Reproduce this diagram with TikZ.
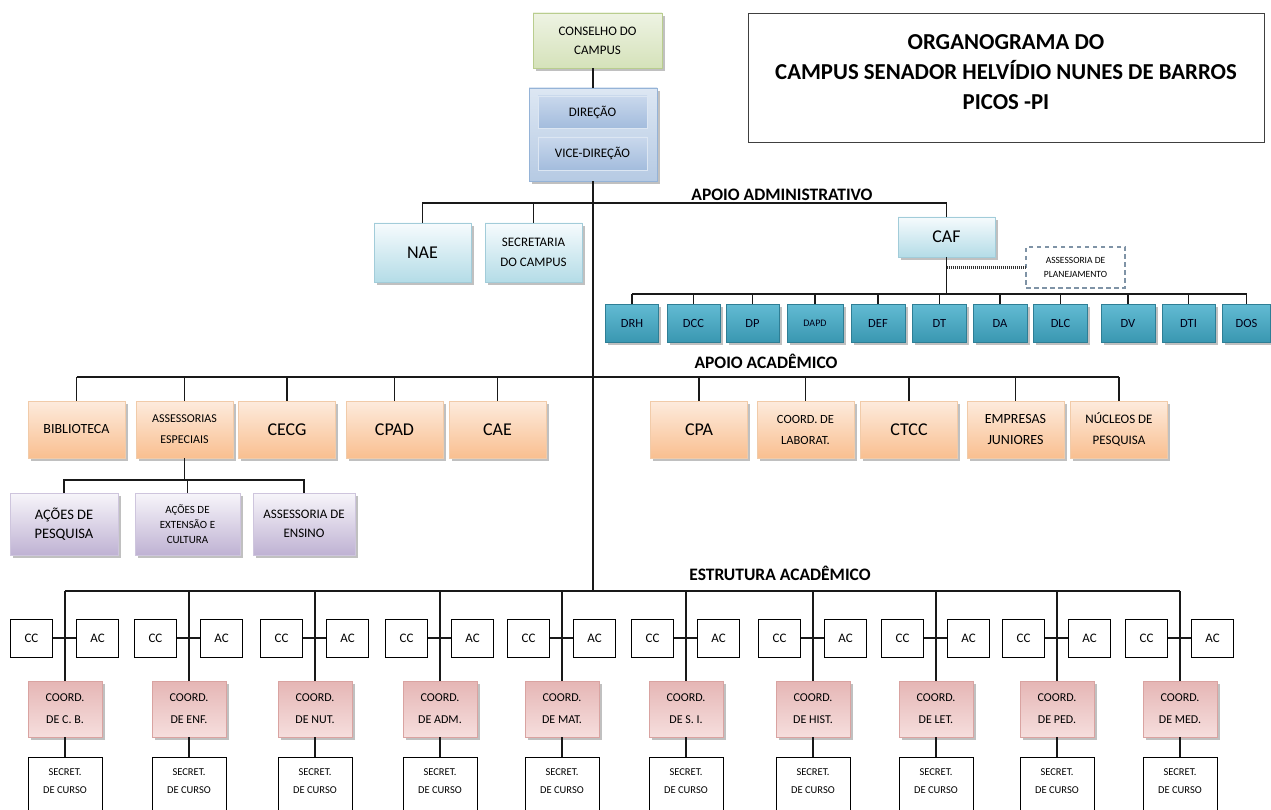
\documentclass[tikz,border=0pt]{standalone}
\usepackage{fontspec}
\setmainfont{Carlito}
\usetikzlibrary{shadows,calc}
\definecolor{grnT}{HTML}{EEF3E3}
\definecolor{grnB}{HTML}{D5E2BA}
\definecolor{grnD}{HTML}{B9CD8E}
\definecolor{bluT}{HTML}{DDE7F3}
\definecolor{bluB}{HTML}{B6CAE3}
\definecolor{bluD}{HTML}{95B3D7}
\definecolor{binT}{HTML}{C9D8EC}
\definecolor{binB}{HTML}{A3BCDD}
\definecolor{binD}{HTML}{DCE6F2}
\definecolor{cyaT}{HTML}{F6FBFD}
\definecolor{cyaB}{HTML}{B4DCE7}
\definecolor{cyaD}{HTML}{A2CCD9}
\definecolor{tealT}{HTML}{62BBD3}
\definecolor{tealB}{HTML}{3A97B1}
\definecolor{tealD}{HTML}{2E7E95}
\definecolor{orT}{HTML}{FDEBDD}
\definecolor{orB}{HTML}{F9BF90}
\definecolor{orD}{HTML}{F1CBA9}
\definecolor{puT}{HTML}{F7F5FA}
\definecolor{puB}{HTML}{BFB2D3}
\definecolor{puD}{HTML}{CEC5DD}
\definecolor{piT}{HTML}{E5B6B5}
\definecolor{piB}{HTML}{F6DEDD}
\definecolor{piD}{HTML}{D9A3A1}
\definecolor{dashc}{HTML}{7F93A6}
\begin{document}
\begin{tikzpicture}[x=1pt,y=-1pt,
  conn/.style={draw=black!90, line width=1.15pt},
  bx/.style={rectangle, align=center, inner sep=1pt, text=black, line width=0.8pt},
  shd/.style={drop shadow={opacity=0.35, shadow xshift=2.5pt, shadow yshift=-3pt, fill=black!70}},
  grnbox/.style={bx, shd, draw=grnD, top color=grnT, bottom color=grnB},
  dirbox/.style={bx, shd, draw=bluD, top color=bluT, bottom color=bluB},
  dinbox/.style={bx, draw=binD, top color=binT, bottom color=binB},
  cyabox/.style={bx, shd, draw=cyaD, top color=cyaT, bottom color=cyaB, minimum width=97pt},
  tealbox/.style={bx, shd, draw=tealD, top color=tealT, bottom color=tealB, minimum height=38pt, text=black!90!blue, font=\fontsize{12.5pt}{14pt}\selectfont},
  orbox/.style={bx, shd, draw=orD, top color=orT, bottom color=orB, minimum width=97pt, minimum height=57pt},
  pubox/.style={bx, shd, draw=puD, top color=puT, bottom color=puB, minimum height=62pt},
  pibox/.style={bx, shd, draw=piD, top color=piT, bottom color=piB, minimum width=74pt, minimum height=56pt, font=\fontsize{12pt}{22pt}\selectfont},
  whbox/.style={bx, draw=black, fill=white, minimum width=42pt, minimum height=38pt, font=\fontsize{13pt}{15pt}\selectfont},
  secbox/.style={bx, draw=black, fill=white, minimum width=74pt, minimum height=80pt, anchor=north},
  sectxt/.style={align=center, inner sep=0pt, text=black, font=\fontsize{10.5pt}{18pt}\selectfont},
  head/.style={inner sep=0pt, text=black, font=\fontsize{17.5pt}{20pt}\selectfont\bfseries}
]
\path[use as bounding box] (0,0) rectangle (1271,810);
\clip (0,0) rectangle (1271,810);
\fill[white] (0,0) rectangle (1271,810);

% ---------- title ----------
\node[draw=black!75, line width=0.9pt, minimum width=516pt, minimum height=129pt] (title) at (1006,77.5) {};
\node[align=center, inner sep=0pt, font=\fontsize{22.8pt}{30pt}\selectfont\bfseries, text=black] (titletxt) at (1006,72)
  {ORGANOGRAMA DO\\CAMPUS SENADOR HELVÍDIO NUNES DE BARROS\\PICOS -PI};

% ---------- top ----------
\node[grnbox, minimum width=129pt, minimum height=55pt, font=\fontsize{13pt}{19pt}\selectfont] (cons) at (597.5,40.5) {CONSELHO DO\\CAMPUS};
\node[dirbox, minimum width=128pt, minimum height=93pt] (dir) at (593,134.5) {};
\node[dinbox, minimum width=109pt, minimum height=32pt, font=\fontsize{13pt}{15pt}\selectfont] (dire) at (592.5,112) {DIREÇÃO};
\node[dinbox, minimum width=109pt, minimum height=33pt, font=\fontsize{13pt}{15pt}\selectfont] (vice) at (592.5,153.5) {VICE-DIREÇÃO};

\draw[conn] (dir.north) -- (dir.north |- cons.south);

% ---------- apoio administrativo ----------
\node[head] (hadm) at (782,195) {APOIO ADMINISTRATIVO};
\coordinate (admbus) at (593,203);
\node[cyabox, minimum height=59pt, font=\fontsize{18pt}{20pt}\selectfont] (nae) at (422.5,252.5) {NAE};
\node[cyabox, minimum height=59pt, font=\fontsize{13pt}{20pt}\selectfont] (secc) at (533.5,252.5) {SECRETARIA\\DO CAMPUS};
\node[cyabox, minimum height=40pt, font=\fontsize{18pt}{20pt}\selectfont] (caf) at (946.5,237) {CAF};
\node[bx, draw=dashc, dashed, dash pattern=on 4.5pt off 3.5pt, line width=1.4pt, fill=white, minimum width=99pt, minimum height=41pt,
      font=\fontsize{9.5pt}{14pt}\selectfont] (plan) at (1075.5,267.5) {ASSESSORIA DE\\PLANEJAMENTO};

\draw[conn] (nae.north) |- (admbus) -| (caf.north);
\draw[conn] (secc.north) -- (secc.north |- admbus);
\draw[black!80, line width=2.2pt, dash pattern=on 1pt off 1pt] (caf.south |- plan.west) -- (plan.west);

\coordinate (tbus) at (946.5,294);
\foreach \n/\x/\w/\t in {drh/632/53/DRH, dcc/693.5/53/DCC, dp/752.5/53/DP, def/878/54/DEF, dt/939.5/54/DT,
                         da/1000/54/DA, dlc/1060.5/54/DLC, dv/1128/54/DV, dti/1188.5/53/DTI, dos/1246.5/48/DOS}{
  \node[tealbox, minimum width=\w pt] (\n) at (\x,323) {\t};
  \draw[conn] (\n.north) -- (\n.north |- tbus);
}
\node[tealbox, minimum width=56pt, font=\fontsize{10pt}{12pt}\selectfont] (dapd) at (815,323) {DAPD};
\draw[conn] (dapd.north) -- (dapd.north |- tbus);
\draw[conn] (drh.north |- tbus) -- (dos.north |- tbus);
\draw[conn] (caf.south) -- (caf.south |- tbus);

% ---------- apoio academico ----------
\node[head] (haca) at (766,361) {APOIO ACADÊMICO};
\coordinate (abus) at (593,377);
\node[orbox, font=\fontsize{14pt}{21pt}\selectfont] (bib) at (76.5,429.5) {BIBLIOTECA};
\node[orbox, font=\fontsize{12pt}{21pt}\selectfont] (ass) at (184.5,429.5) {ASSESSORIAS\\ESPECIAIS};
\node[orbox, font=\fontsize{18pt}{21pt}\selectfont] (cecg) at (287,429.5) {CECG};
\node[orbox, font=\fontsize{18pt}{21pt}\selectfont] (cpad) at (394.5,429.5) {CPAD};
\node[orbox, font=\fontsize{18pt}{21pt}\selectfont] (cae) at (497.5,429.5) {CAE};
\node[orbox, font=\fontsize{18pt}{21pt}\selectfont] (cpa) at (699,429.5) {CPA};
\node[orbox, font=\fontsize{12.5pt}{21pt}\selectfont] (lab) at (805.5,429.5) {COORD. DE\\LABORAT.};
\node[orbox, font=\fontsize{18pt}{21pt}\selectfont] (ctcc) at (909,429.5) {CTCC};
\node[orbox, font=\fontsize{14pt}{21pt}\selectfont] (emp) at (1015.5,429.5) {EMPRESAS\\JUNIORES};
\node[orbox, font=\fontsize{13pt}{21pt}\selectfont] (nuc) at (1119,429.5) {NÚCLEOS DE\\PESQUISA};
\foreach \n in {bib,ass,cecg,cpad,cae,cpa,lab,ctcc,emp,nuc}{
  \draw[conn] (\n.north) -- (\n.north |- abus);
}
\draw[conn] (bib.north |- abus) -- (nuc.north |- abus);

% purple
\coordinate (pbus) at (186,480);
\node[pubox, minimum width=108pt, font=\fontsize{14.5pt}{19pt}\selectfont] (pes) at (64,524) {AÇÕES DE\\PESQUISA};
\node[pubox, minimum width=105pt, font=\fontsize{11pt}{15pt}\selectfont] (ext) at (187.5,524) {AÇÕES DE\\EXTENSÃO E\\CULTURA};
\node[pubox, minimum width=102pt, font=\fontsize{13pt}{19pt}\selectfont] (ens) at (304,524) {ASSESSORIA DE\\ENSINO};
\draw[conn] (ass.south) -- (ass.south |- pbus);
\draw[conn] (pes.north) |- (pbus) -| (ens.north);
\draw[conn] (ext.north) -- (ext.north |- pbus);

% ---------- estrutura ----------
\node[head] (hest) at (780,573) {ESTRUTURA ACADÊMICO};
\coordinate (ebus) at (593,591);
\draw[conn] (dir.south) -- (dir.south |- ebus);
\foreach \i/\x/\lab in {1/65/DE C. B., 2/189/DE ENF., 3/315/DE NUT., 4/440/DE ADM., 5/562/DE MAT.,
                        6/686/DE S. I., 7/813/DE HIST., 8/936/DE LET., 9/1057/DE PED., 10/1180/DE MED.}{
  \node[whbox] (cc\i) at (\x-33.5,638) {CC};
  \node[whbox] (ac\i) at (\x+32.5,638) {AC};
  \node[pibox] (co\i) at (\x,709) {COORD.\\\lab};
  \node[secbox] (se\i) at (\x,757) {};
  \node[sectxt] (st\i) at (\x,781) {SECRET.\\DE CURSO};
  \draw[conn] (co\i.north) -- (co\i.north |- ebus);
  \draw[conn] (cc\i.east) -- (ac\i.west);
  \draw[conn] (co\i.south) -- (se\i.north);
}
\draw[conn] (co1.north |- ebus) -- (co10.north |- ebus);
\end{tikzpicture}
\end{document}
